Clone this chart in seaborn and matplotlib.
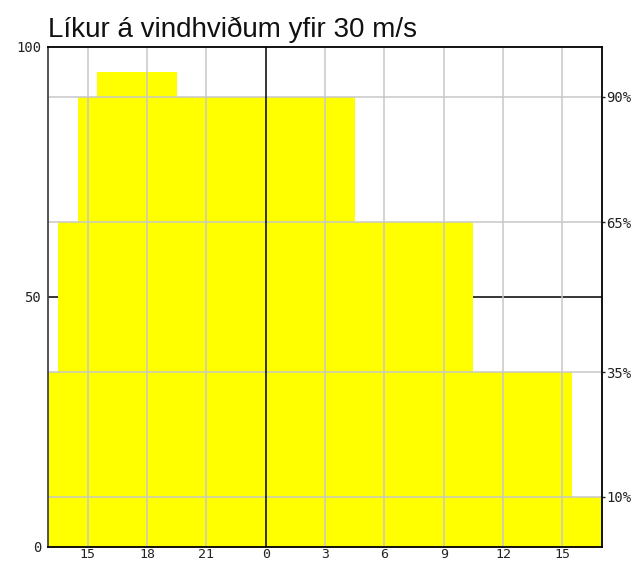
import matplotlib
matplotlib.use("Agg")
import matplotlib.pyplot as plt
import seaborn as sns

# Step edges in hours (15 = kl. 15 first day, 24 = midnight, 39 = kl. 15 next day)
bin_edges = [13.0, 13.5, 14.5, 15.5, 19.5, 28.5, 34.5, 39.5, 41.0]
probability = [35, 65, 90, 95, 90, 65, 35, 10]

hour_ticks = [15, 18, 21, 24, 27, 30, 33, 36, 39]
hour_labels = ["15", "18", "21", "0", "3", "6", "9", "12", "15"]
left_ticks = [0, 50, 100]
pct_ticks = [10, 35, 65, 90]
pct_labels = ["10%", "35%", "65%", "90%"]

sns.set_style("white")
plt.rcParams["font.family"] = ["DejaVu Sans Mono"]

fig = plt.figure(figsize=(6.38, 5.63), dpi=100)
ax = fig.add_axes([48 / 638, 16 / 563, 554 / 638, 500 / 563])

centers = [(a + b) / 2 for a, b in zip(bin_edges[:-1], bin_edges[1:])]

# black mid line sits behind the yellow fill
ax.axhline(50, color="black", lw=1.1, zorder=0.5)

sns.histplot(x=centers, weights=probability, bins=bin_edges, stat="count",
             color="#ffff00", alpha=1, linewidth=0, element="bars", ax=ax, zorder=1)

for h in hour_ticks:
    if h == 24:
        continue
    ax.axvline(h, color="#c8c8c8", lw=1.1, zorder=2)
for p in pct_ticks:
    ax.axhline(p, color="#c8c8c8", lw=1.1, zorder=2)
ax.axvline(24, color="black", lw=1.1, zorder=3)

ax.set_xlim(bin_edges[0], bin_edges[-1])
ax.set_ylim(0, 100)
ax.set_xlabel("")
ax.set_ylabel("")
ax.set_xticks(hour_ticks)
ax.set_xticklabels(hour_labels)
ax.set_yticks(left_ticks)
ax.tick_params(axis="both", length=0, labelsize=10, colors="#222222")
ax.tick_params(axis="x", pad=0.5, labelsize=9.5)
ax.tick_params(axis="y", pad=5)

for side in ["top", "right", "bottom"]:
    ax.spines[side].set_color("black")
    ax.spines[side].set_linewidth(1.3)
ax.spines["left"].set_color("#444444")
ax.spines["left"].set_linewidth(1.3)

ax2 = ax.twinx()
ax2.set_ylim(0, 100)
ax2.set_yticks(pct_ticks)
ax2.set_yticklabels(pct_labels)
ax2.tick_params(axis="y", length=2, width=1, colors="#222222", labelsize=10, pad=1)
for s in ax2.spines.values():
    s.set_visible(False)

fig.text(48 / 638, 1 - 37 / 563, "Líkur á vindhviðum yfir 30 m/s",
         family="Liberation Sans", fontsize=20, color="#111111", ha="left", va="baseline")

fig.savefig("out.png", dpi=100)
